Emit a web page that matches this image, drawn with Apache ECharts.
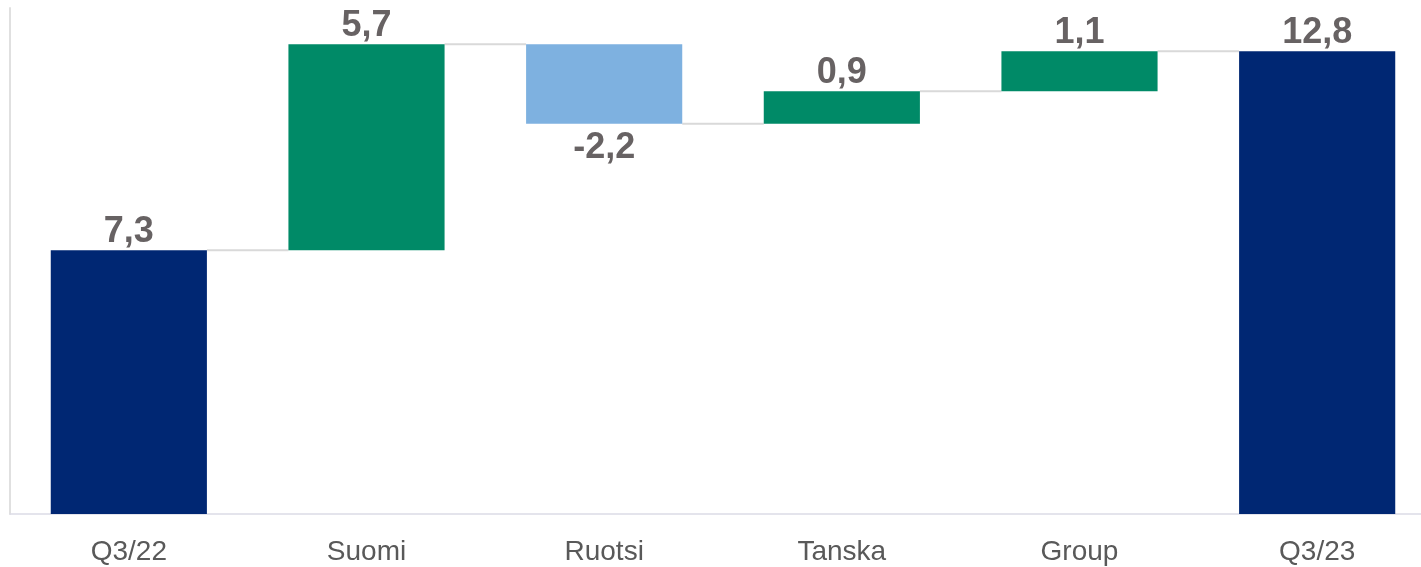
<!DOCTYPE html>
<html>
<head>
<meta charset="utf-8">
<style>
  html, body { margin: 0; padding: 0; background: #fff; }
  #chart { width: 1421px; height: 567px; }
</style>
<script src="https://cdn.jsdelivr.net/npm/echarts@6/dist/echarts.min.js"></script>
</head>
<body>
<div id="chart"></div>
<script>
// data
var categories = ['Q3/22', 'Suomi', 'Ruotsi', 'Tanska', 'Group', 'Q3/23']
var changes = [7.3, 5.7, -2.2, 0.9, 1.1, 12.8]
var isTotal = [true, false, false, false, false, true]

var NAVY = '#002773'
var GREEN = '#008a67'
var LIGHTBLUE = '#7eb1e0'

// waterfall base/height from the data
var base = []
var height = []
var levels = [] // running level after each bar
var running = 0
for (var i = 0; i < changes.length; i++) {
  if (isTotal[i]) {
    base.push(0)
    height.push(changes[i])
    running = changes[i]
  } else {
    var next = running + changes[i]
    base.push(Math.min(running, next))
    height.push(Math.abs(changes[i]))
    running = next
  }
  levels.push(Math.round(running * 10) / 10)
}

function barColor(i) {
  if (isTotal[i]) return NAVY
  return changes[i] >= 0 ? GREEN : LIGHTBLUE
}

function fmt(v) {
  return String(v.toFixed(1)).replace('.', ',')
}

var BAR_RATIO = 0.657

var chart = echarts.init(document.getElementById('chart'))
chart.setOption({
  animation: false,
  textStyle: { fontFamily: 'Liberation Sans, Arial, sans-serif' },
  grid: {
    left: 10,
    right: -15, // plot runs a bit past the right edge, like the original
    top: 8,
    bottom: 53,
    containLabel: false,
    outerBoundsMode: 'none'
  },
  xAxis: {
    type: 'category',
    data: categories,
    axisTick: { show: false },
    axisLine: { show: true, lineStyle: { color: '#dcdce6', width: 1.5 } },
    axisLabel: {
      color: '#595959',
      fontSize: 28,
      margin: 24
    },
    splitLine: { show: false }
  },
  yAxis: {
    type: 'value',
    min: 0,
    max: 14,
    axisLabel: { show: false },
    axisTick: { show: false },
    axisLine: { show: true, lineStyle: { color: '#e0e0e0', width: 2 } },
    splitLine: { show: false }
  },
  series: [
    {
      name: 'base',
      type: 'bar',
      stack: 'wf',
      barWidth: (BAR_RATIO * 100) + '%',
      itemStyle: { color: 'transparent' },
      data: base,
      silent: true
    },
    {
      name: 'value',
      type: 'bar',
      stack: 'wf',
      barWidth: (BAR_RATIO * 100) + '%',
      data: height.map(function (h, i) {
        return {
          value: h,
          itemStyle: { color: barColor(i) },
          label: {
            show: true,
            position: changes[i] < 0 ? 'bottom' : 'top',
            distance: changes[i] < 0 ? 6 : 0,
            formatter: fmt(changes[i]),
            color: '#676263',
            fontSize: 36,
            fontWeight: 'bold'
          }
        }
      })
    },
    {
      // connector lines between bars
      name: 'connector',
      type: 'custom',
      silent: true,
      z: 1,
      data: levels.slice(0, levels.length - 1).map(function (lv, i) {
        return [i, lv]
      }),
      renderItem: function (params, api) {
        var p = api.coord([api.value(0), api.value(1)])
        var band = api.size([1, 0])[0]
        var half = band * BAR_RATIO / 2
        return {
          type: 'line',
          shape: {
            x1: p[0] + half,
            y1: p[1],
            x2: p[0] + band - half,
            y2: p[1]
          },
          style: { stroke: '#d9d9d9', lineWidth: 2 }
        }
      }
    }
  ]
})
</script>
</body>
</html>
